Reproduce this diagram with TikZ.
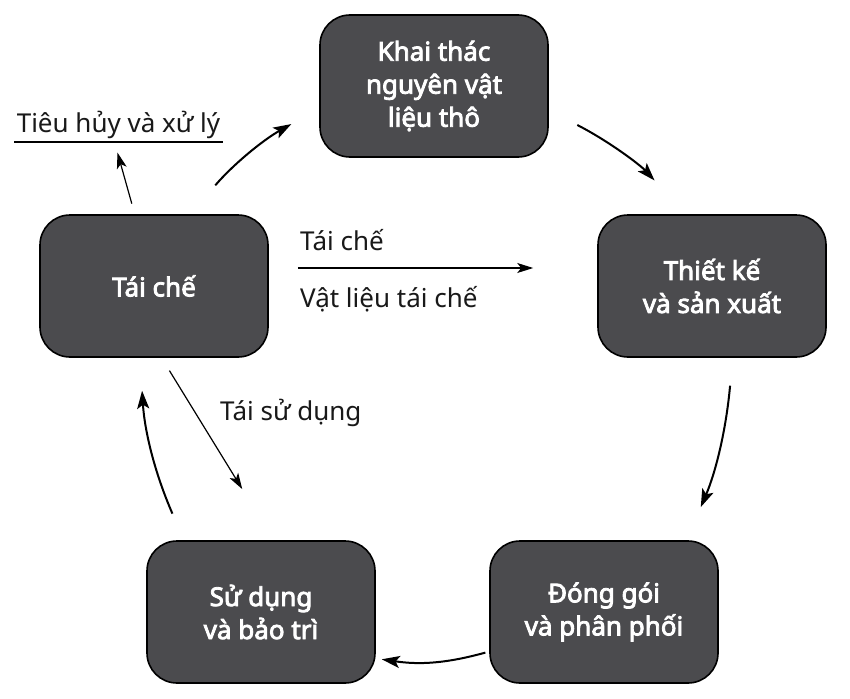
\documentclass[tikz,border=0pt]{standalone}
\usepackage{fontspec}
\setmainfont{Noto Sans}[AutoFakeBold=3.2]
\usetikzlibrary{arrows.meta}
\definecolor{boxgray}{RGB}{75,75,78}
\tikzset{
  stage/.style={draw=black, line width=1.6pt, fill=boxgray, rounded corners=30pt,
    minimum width=228pt, minimum height=142pt, text=white, align=center, inner sep=0pt,
    font=\bfseries\fontsize{26}{33}\selectfont},
  lbl/.style={inner sep=0pt, font=\fontsize{26}{30}\selectfont, text=black!90},
  cyc/.style={line width=2pt, -{Stealth[length=18pt,width=12pt,inset=4pt]}},
  thinarrow/.style={line width=1.2pt, -{Stealth[length=16pt,width=10pt,inset=4pt]}},
}
\begin{document}
\begin{tikzpicture}[x=1pt,y=1pt]
\useasboundingbox (0,0) rectangle (850,-698);
\fill[white] (0,0) rectangle (850,-698);

\node[stage] (khai)   at (434,-86)  {Khai thác\\nguyên vật\\liệu thô};
\node[stage] (thiet)  at (712,-286) {Thiết kế\\và sản xuất};
\node[stage] (dong)   at (604,-612) {Đóng gói\\và phân phối};
\node[stage] (sudung) at (261,-612) {Sử dụng\\và bảo trì};
\node[stage] (taiche) at (154,-286) {Tái chế};

\node[lbl, anchor=south, minimum width=208pt, text depth=9pt] (tieu) at (118.5,-142) {Tiêu hủy và xử lý};
\draw[line width=1.1pt] (tieu.south west) -- (tieu.south east);

\node[lbl, anchor=base west] (ltc) at (300,-250) {Tái chế};
\node[lbl, anchor=base west] (lvl) at (300,-307) {Vật liệu tái chế};
\node[lbl, anchor=base west] (lsd) at (220,-420) {Tái sử dụng};

% main cycle
\draw[cyc, shorten <=32pt, shorten >=46pt] (khai.-12) to[bend left=10] (thiet.110);
\draw[cyc, shorten <=28pt, shorten >=36pt] (thiet.-74) to[bend left=9] (dong.41);
\draw[cyc, shorten <=4pt, shorten >=6pt] (dong.199) to[bend left=12] (sudung.-22);
\draw[cyc, shorten <=29pt, shorten >=33pt] (sudung.137) to[bend left=10] (taiche.-101);
\draw[cyc, shorten <=38pt, shorten >=32pt] (taiche.63) to[bend left=10] (khai.191);

% thin arrows
\draw[thinarrow, shorten <=11pt, shorten >=11pt] (taiche.105) -- ([xshift=-4pt]tieu.south);
\draw[thinarrow, shorten <=29pt, shorten >=64pt] ([yshift=18pt]taiche.east) -- ([yshift=18pt]thiet.west);
\draw[thinarrow, shorten <=15pt, shorten >=60pt] (taiche.-84) -- (sudung.80);
\end{tikzpicture}
\end{document}
